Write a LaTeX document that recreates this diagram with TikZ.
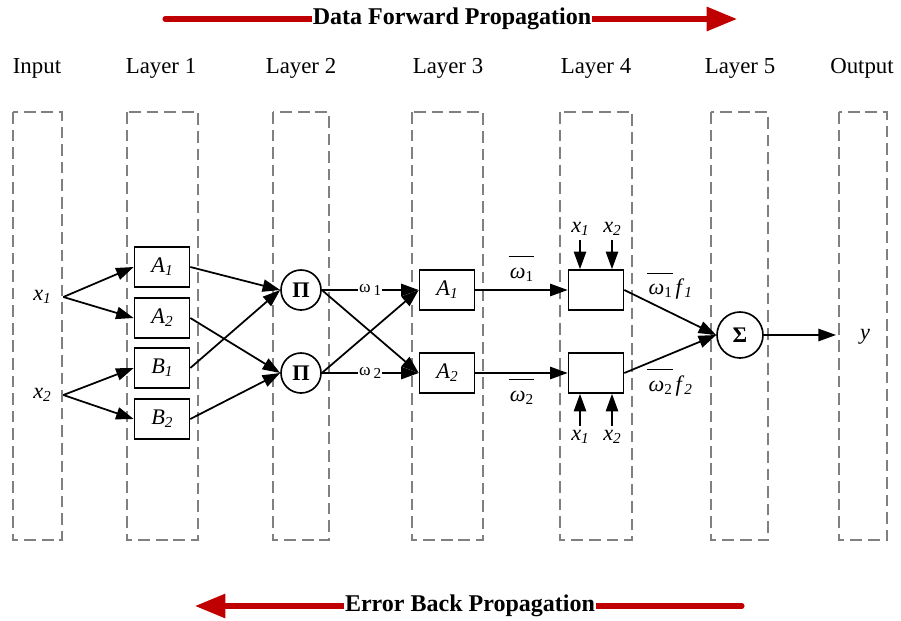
\documentclass[tikz,border=0pt]{standalone}
\usepackage{fontspec}
\setmainfont{Liberation Serif}
\usetikzlibrary{arrows.meta}
\definecolor{ink}{HTML}{000000}
\definecolor{frame}{HTML}{808080}
\definecolor{flow}{HTML}{C00000}
% lowered index and italic symbol with index
\newcommand{\lo}[1]{{\fontsize{13}{13}\selectfont\raisebox{-0.45ex}{#1}}}
\newcommand{\iv}[2]{\textit{#1}\lo{\textit{#2}}}
\newcommand{\wbar}{\makebox[0pt][l]{\hspace{-0.05em}\raisebox{0.95em}{\rule{1.15em}{0.8pt}}}\textit{ω}}

\begin{document}
\begin{tikzpicture}[
    x=0.03cm, y=-0.03cm,
    line width=1.5pt, >={Triangle[length=15pt,width=10.5pt]},
    color=ink,
    font=\fontsize{19}{22}\selectfont,
    layer/.style={draw=frame, line width=1.6pt, dash pattern=on 10pt off 5pt},
    title/.style={font=\fontsize{19.5}{23}\selectfont},
    box/.style={draw, line width=1.4pt, minimum width=1.65cm, minimum height=1.2cm, inner sep=0pt},
    op/.style={draw, circle, line width=1.4pt, minimum size=1.2cm, inner sep=0pt},
    onw/.style={fill=white, inner sep=1pt, font=\fontsize{15}{18}\selectfont},
    flow arrow/.style={draw=flow, line width=4.3pt, line cap=round,
                       -{Triangle[length=26pt,width=20pt]}},
    flow text/.style={fill=white, inner sep=0.5pt, font=\fontsize{20.5}{24}\selectfont\bfseries}]
  % fixed canvas, one unit per pixel
  \path[use as bounding box] (0,0) rectangle (901,621);

  % ================= propagation arrows =================
  \coordinate (fw0) at (165,19);
  \coordinate (fw1) at (737,19);
  \draw[flow arrow] (fw0) -- (fw1);
  \node[flow text] (fwd) at (452,19) {Data Forward Propagation};
  \coordinate (bk0) at (742,606);
  \coordinate (bk1) at (195,606);
  \draw[flow arrow] (bk0) -- (bk1);
  \node[flow text] (bwd) at (470,606) {Error Back Propagation};

  % ================= layer columns =================
  \draw[layer] (13,112) rectangle (62,540);
  \draw[layer] (127,112) rectangle (198,540);
  \draw[layer] (273,112) rectangle (329,540);
  \draw[layer] (412,112) rectangle (483,540);
  \draw[layer] (560,112) rectangle (632,540);
  \draw[layer] (711,112) rectangle (768,540);
  \draw[layer] (839,112) rectangle (887,540);
  \node[title] (tin) at (37,68) {Input};
  \node[title] (tl1) at (161,68) {Layer 1};
  \node[title] (tl2) at (301,68) {Layer 2};
  \node[title] (tl3) at (448,68) {Layer 3};
  \node[title] (tl4) at (596,68) {Layer 4};
  \node[title] (tl5) at (740,68) {Layer 5};
  \node[title] (tout) at (862,68) {Output};

  % ================= nodes =================
  \node[inner xsep=10pt] (in1) at (42,297) {\iv{x}{1}};
  \node[inner xsep=10pt] (in2) at (42,395) {\iv{x}{2}};
  \node[box] (a1) at (162,267) {\iv{A}{1}};
  \node[box] (a2) at (162,318) {\iv{A}{2}};
  \node[box] (b1) at (162,368) {\iv{B}{1}};
  \node[box] (b2) at (162,419) {\iv{B}{2}};
  \node[op] (p1) at (301,290) {\textbf{Π}};
  \node[op] (p2) at (301,373) {\textbf{Π}};
  \node[box] (c1) at (447,290) {\iv{A}{1}};
  \node[box] (c2) at (447,373) {\iv{A}{2}};
  \node[box] (d1) at (596,290) {};
  \node[box] (d2) at (596,373) {};
  \node[op, minimum size=1.38cm] (s) at (740,335) {\textbf{Σ}};
  \node (yo) at (865,337) {\textit{y}};
  \coordinate (yend) at (836,335);
  % inputs of layer 4
  \node (t1) at (580,229) {\iv{x}{1}};
  \node (t2) at (612,229) {\iv{x}{2}};
  \node (u1) at (580,437) {\iv{x}{1}};
  \node (u2) at (612,437) {\iv{x}{2}};

  % ================= connectors =================
  \draw[->] (in1.east) -- (a1.west);
  \draw[->] (in1.east) -- (a2.west);
  \draw[->] (in2.east) -- (b1.west);
  \draw[->] (in2.east) -- (b2.west);
  \draw[->] (a1.east) -- (p1.west);
  \draw[->] (b1.east) -- (p1.west);
  \draw[->] (a2.east) -- (p2.west);
  \draw[->] (b2.east) -- (p2.west);
  \draw[->] (p1.east) -- node[onw] {ω\,\lo{1}} (c1.west);
  \draw[->] (p2.east) -- node[onw] {ω\,\lo{2}} (c2.west);
  \draw[->] (p1.east) -- (c2.west);
  \draw[->] (p2.east) -- (c1.west);
  \draw[->] (c1.east) -- node[above=3pt] {\wbar\lo{1}} (d1.west);
  \draw[->] (c2.east) -- node[below=1pt] {\wbar\lo{2}} (d2.west);
  \draw[->] (d1.east) -- node[above=7pt] {\wbar\lo{1}\,\iv{f}{1}} (s.west);
  \draw[->] (d2.east) -- node[below=9pt] {\wbar\lo{2}\,\iv{f}{2}} (s.west);
  \draw[->] (s.east) -- (yend);
  \foreach \n/\m in {t1/d1,t2/d1} \draw[->] (\n.south) -- (\n.south |- \m.north);
  \foreach \n/\m in {u1/d2,u2/d2} \draw[->] (\n.north) -- (\n.north |- \m.south);
\end{tikzpicture}
\end{document}
